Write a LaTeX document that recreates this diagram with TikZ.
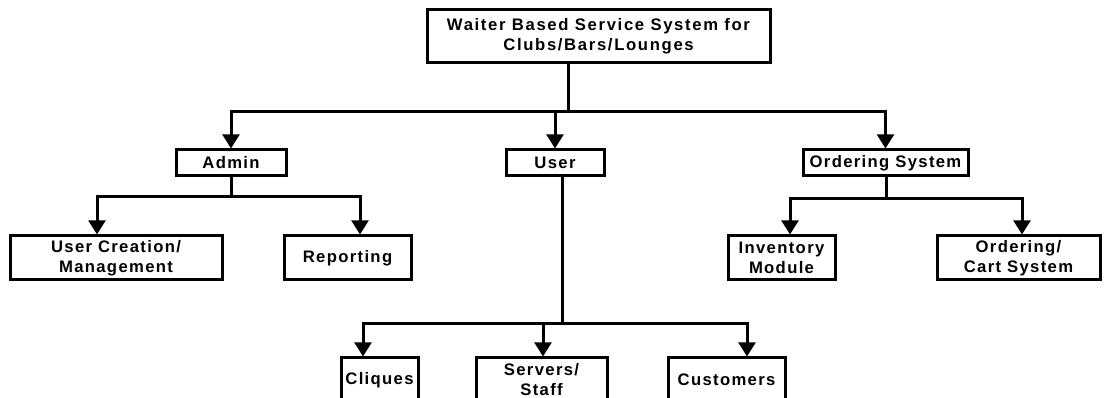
\documentclass[tikz,border=0pt]{standalone}
\usepackage{fontspec}
\setmainfont{Liberation Sans}
\newfontfamily\boxfont[LetterSpace=8.0]{Liberation Sans}
\newfontfamily\titlefont[LetterSpace=10.0]{Liberation Sans}
\usetikzlibrary{arrows.meta}

\begin{document}
\begin{tikzpicture}[x=0.75pt,y=-0.75pt,
  box/.style={draw, line width=2.25pt, inner sep=0pt, align=center,
    font=\boxfont\bfseries\fontsize{12.5}{15}\selectfont},
  link/.style={line width=2.25pt},
  arr/.style={link, -{Triangle[length=10.5pt,width=12.5pt]}}]
\useasboundingbox (0,0) rectangle (1108,398);
\fill[white] (0,0) rectangle (1108,398);
\clip (0,0) rectangle (1108,398);

% root
\node[box, minimum width=257.25pt, minimum height=39.75pt,
  font=\titlefont\bfseries\fontsize{12.5}{15}\selectfont] (top) at (598.5,36.5)
  {Waiter Based Service System for\\Clubs/Bars/Lounges};

% second level
\node[box, minimum width=82.5pt, minimum height=19.5pt] (admin) at (231,163) {Admin};
\node[box, minimum width=73.5pt, minimum height=19.5pt] (user) at (555,163) {User};
\node[box, minimum width=123.75pt, minimum height=19.5pt] (ord) at (885.5,163) {Ordering System};

% third level
\node[box, minimum width=159pt, minimum height=33pt] (ucm) at (116,258) {User Creation/\\Management};
\node[box, minimum width=95.25pt, minimum height=33pt] (rep) at (347.5,258) {Reporting};
\node[box, minimum width=80.25pt, minimum height=33pt] (inv) at (781.5,258) {Inventory\\Module};
\node[box, minimum width=122.25pt, minimum height=33pt] (cart) at (1018.5,258) {Ordering/\\Cart System};

% user branch
\node[box, minimum width=57.75pt, minimum height=33pt] (cliq) at (379.5,380) {Cliques};
\node[box, minimum width=98.25pt, minimum height=33pt] (serv) at (541.5,380) {Servers/\\Staff};
\node[box, minimum width=87.75pt, minimum height=33pt] (cust) at (726.5,380) {Customers};

% junction points
\coordinate (j0) at (568,112);
\coordinate (j1) at (231,197);
\coordinate (j2) at (886,199);
\coordinate (j3) at (562,324);

% root to second level
\draw[link] (top.south -| j0) -- (j0);
\draw[arr] (j0) -| (admin.north);
\draw[arr] (j0) -| (ord.north);
\draw[arr] (user.north |- j0) -- (user.north);

% admin branch
\draw[link] (admin.south) -- (j1);
\draw[arr] (j1) -| ([xshift=-14.25pt]ucm.north);
\draw[arr] (j1) -| ([xshift=9.375pt]rep.north);

% ordering branch
\draw[link] (ord.south -| j2) -- (j2);
\draw[arr] (j2) -| ([xshift=6.375pt]inv.north);
\draw[arr] (j2) -| ([xshift=2.625pt]cart.north);

% user branch
\draw[link] (user.south -| j3) -- (j3);
\draw[arr] (j3) -| ([xshift=-12.375pt]cliq.north);
\draw[arr] (j3) -| ([xshift=1.125pt]serv.north);
\draw[arr] (j3) -| ([xshift=15.375pt]cust.north);
\end{tikzpicture}
\end{document}
